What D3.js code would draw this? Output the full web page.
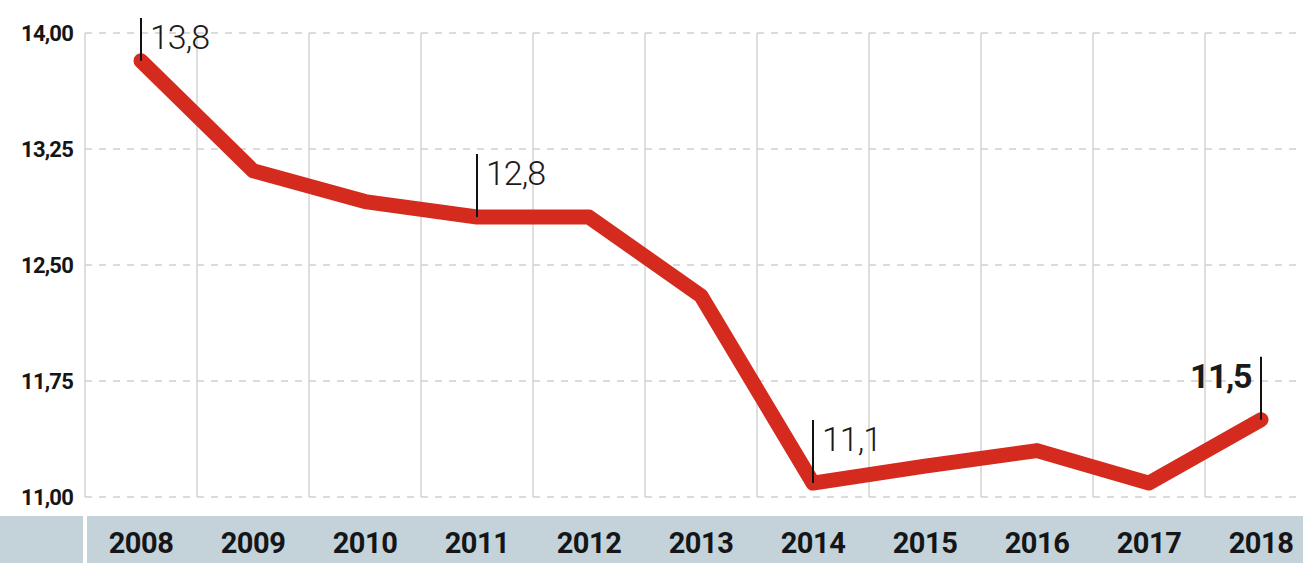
<!DOCTYPE html>
<html>
<head>
<meta charset="utf-8">
<script src="https://cdn.jsdelivr.net/npm/d3@7"></script>
<style>
  html, body { margin: 0; padding: 0; background: #fff; }
  svg { display: block; }
</style>
</head>
<body>
<svg id="chart" width="1303" height="563"></svg>
<script>
// data
const years = ["2008", "2009", "2010", "2011", "2012", "2013", "2014", "2015", "2016", "2017", "2018"];
const values = [13.82, 13.11, 12.91, 12.81, 12.81, 12.30, 11.09, 11.20, 11.30, 11.09, 11.50];
const yTicks = [11, 11.75, 12.5, 13.25, 14];
const notes = [
    { year: "2008", label: "13,8", bold: false, side: "right" },
    { year: "2011", label: "12,8", bold: false, side: "right" },
    { year: "2014", label: "11,1", bold: false, side: "right" },
    { year: "2018", label: "11,5", bold: true, side: "left" }
];

const svg = d3.select("#chart");
const width = +svg.attr("width");
const height = +svg.attr("height");

const plotLeft = 85;
const plotTop = 33;
const plotBottom = 497;

const x = d3.scaleBand().domain(years).range([plotLeft, plotLeft + 112 * years.length]).paddingInner(0).paddingOuter(0);
const cx = d => x(d) + x.bandwidth() / 2;
const y = d3.scaleLinear().domain([11, 14]).range([plotBottom, plotTop]);

const fmt = v => d3.format(".2f")(v).replace(".", ",");

// vertical grid lines at band starts
svg.append("g")
    .selectAll("line")
    .data(years)
    .join("line")
    .attr("x1", d => x(d))
    .attr("x2", d => x(d))
    .attr("y1", plotTop)
    .attr("y2", plotBottom)
    .attr("stroke", "#d6d6d6")
    .attr("stroke-width", 1.6);

// dashed horizontal grid
svg.append("g")
    .selectAll("line")
    .data(yTicks)
    .join("line")
    .attr("x1", plotLeft)
    .attr("x2", width)
    .attr("y1", d => y(d))
    .attr("y2", d => y(d))
    .attr("stroke", "#cfcfcf")
    .attr("stroke-width", 1.6)
    .attr("stroke-dasharray", "7,7");

// y labels
svg.append("g")
    .selectAll("text")
    .data(yTicks)
    .join("text")
    .attr("x", 73)
    .attr("y", d => y(d))
    .attr("dy", "0.35em")
    .attr("text-anchor", "end")
    .style("font-family", "Roboto, 'DejaVu Sans', sans-serif")
    .style("font-weight", 700)
    .style("font-size", "22px")
    .style("letter-spacing", "-0.8px")
    .attr("fill", "#151515")
    .text(fmt);

// bottom band with years
svg.append("rect")
    .attr("x", 0)
    .attr("y", 516)
    .attr("width", width)
    .attr("height", height - 516)
    .attr("fill", "#c4d2da");

svg.append("rect")
    .attr("x", plotLeft - 2)
    .attr("y", 516)
    .attr("width", 4)
    .attr("height", height - 516)
    .attr("fill", "#ffffff");

svg.append("g")
    .selectAll("text")
    .data(years)
    .join("text")
    .attr("x", d => cx(d))
    .attr("y", 553)
    .attr("text-anchor", "middle")
    .style("font-family", "Roboto, 'DejaVu Sans', sans-serif")
    .style("font-weight", 700)
    .style("font-size", "29px")
    .style("letter-spacing", "-0.5px")
    .attr("fill", "#161616")
    .text(d => d);

// the red line
const line = d3.line()
    .x((d, i) => cx(years[i]))
    .y(d => y(d));

svg.append("path")
    .datum(values)
    .attr("d", line)
    .attr("fill", "none")
    .attr("stroke", "#d52b1e")
    .attr("stroke-width", 15)
    .attr("stroke-linejoin", "round")
    .attr("stroke-linecap", "round");

// annotations
const noteG = svg.append("g");
notes.forEach(n => {
    const i = years.indexOf(n.year);
    const px = cx(n.year);
    const py = y(values[i]);
    const lineTop = Math.max(py - 63, 18);
    const base = Math.max(py - 35, lineTop + 31);

    noteG.append("line")
        .attr("x1", px)
        .attr("x2", px)
        .attr("y1", lineTop)
        .attr("y2", py)
        .attr("stroke", "#111")
        .attr("stroke-width", 2);

    noteG.append("text")
        .attr("x", n.side === "right" ? px + 9 : px - 10)
        .attr("y", base)
        .attr("text-anchor", n.side === "right" ? "start" : "end")
        .style("font-family", "Roboto, 'DejaVu Sans', sans-serif")
        .style("font-weight", n.bold ? 700 : 300)
        .style("font-size", n.bold ? "34px" : "34px")
        .style("letter-spacing", n.bold ? "-1.5px" : "-1px")
        .attr("fill", "#1a1a1a")
        .text(n.label);
});
</script>
</body>
</html>
